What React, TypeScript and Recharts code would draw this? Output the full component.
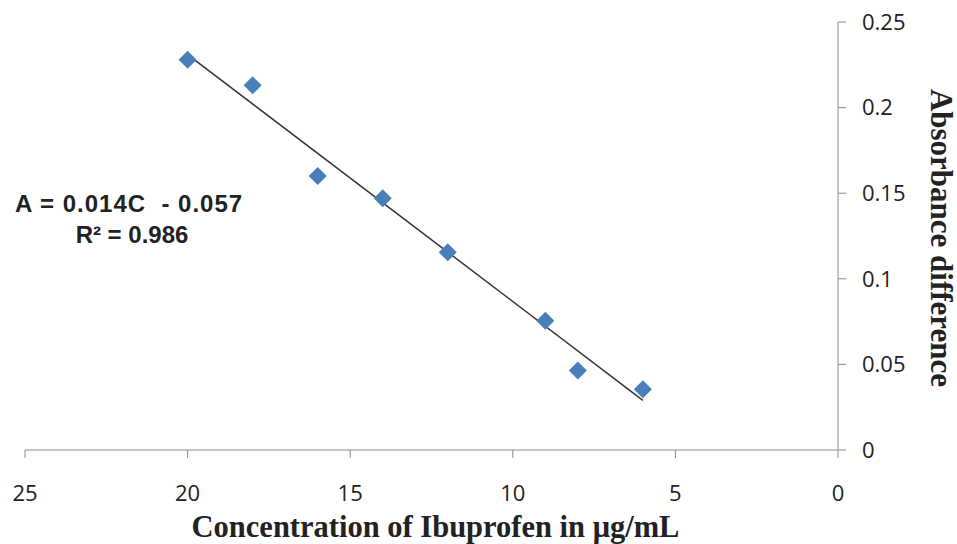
import {
  ComposedChart,
  Scatter,
  XAxis,
  YAxis,
  Label,
} from 'recharts';

const concentration = [20, 18, 16, 14, 12, 9, 8, 6];
const absorbance = [0.228, 0.213, 0.16, 0.147, 0.1155, 0.0755, 0.0465, 0.0355];

// fitted line endpoints as drawn in the figure
const trendX = [20, 6];
const trendY = [0.231, 0.029];

const xTicks = [0, 5, 10, 15, 20, 25];
const yTicks = [0, 0.05, 0.1, 0.15, 0.2, 0.25];

const equationText = 'A = 0.014C  - 0.057';
const r2Text = 'R² = 0.986';

const points = concentration.map((c, i) => ({ c, a: absorbance[i] }));
const trend = trendX.map((c, i) => ({ c, a: trendY[i] }));

const MARKER = '#4A7EBB';
const AXIS = '#8c8c8c';
const TICK_FONT = '"Open Sans", "Liberation Sans", sans-serif';
const SERIF = '"Liberation Serif", "Times New Roman", serif';

const Diamond = (props: any) => {
  const { cx, cy } = props;
  const r = 9;
  return (
    <polygon
      points={`${cx},${cy - r} ${cx + r},${cy} ${cx},${cy + r} ${cx - r},${cy}`}
      fill={MARKER}
    />
  );
};

const YTitle = (props: any) => {
  const { viewBox } = props;
  const x = viewBox.x + viewBox.width - 16;
  const y = viewBox.y + viewBox.height / 2 + 2;
  return (
    <text
      x={x}
      y={y}
      transform={`rotate(90, ${x}, ${y})`}
      textAnchor="middle"
      dominantBaseline="central"
      fontFamily={SERIF}
      fontWeight="bold"
      fontSize={31}
      fill="#222"
    >
      Absorbance difference
    </text>
  );
};

export default function App() {
  return (
    <div style={{ position: 'absolute', left: 0, top: 0, width: 957, height: 544, background: '#fff' }}>
      <ComposedChart
        width={957}
        height={544}
        margin={{ top: 22, right: 0, left: 25, bottom: 0 }}
      >
        <XAxis
          type="number"
          dataKey="c"
          domain={[0, 25]}
          ticks={xTicks}
          reversed
          height={94}
          stroke={AXIS}
          tickSize={8}
          tickMargin={27}
          tick={{ fill: '#222', fontSize: 22, fontFamily: TICK_FONT }}
          tickLine={{ stroke: AXIS }}
        >
          <Label
            value="Concentration of Ibuprofen in μg/mL"
            position="insideBottom"
            offset={7}
            dx={4}
            style={{ fontFamily: SERIF, fontWeight: 'bold', fontSize: 30.5, fill: '#222' }}
          />
        </XAxis>
        <YAxis
          type="number"
          dataKey="a"
          orientation="right"
          domain={[0, 0.25]}
          ticks={yTicks}
          width={119}
          stroke={AXIS}
          tickSize={8}
          tickMargin={16}
          tick={{ fill: '#222', fontSize: 22, fontFamily: TICK_FONT, textAnchor: 'start' }}
          tickLine={{ stroke: AXIS }}
        >
          <Label content={<YTitle />} />
        </YAxis>
        <Scatter
          data={trend}
          line={{ stroke: '#333', strokeWidth: 1.5 }}
          shape={() => null}
          isAnimationActive={false}
        />
        <Scatter data={points} shape={<Diamond />} isAnimationActive={false} />
      </ComposedChart>
      <svg
        width={260}
        height={80}
        style={{ position: 'absolute', left: 0, top: 180 }}
      >
        <g fontFamily='"Liberation Sans", Arial, sans-serif' fontWeight="bold" fontSize={24} fill="#222" textAnchor="middle">
          <text x={129} y={32} letterSpacing={1} style={{ whiteSpace: 'pre' }}>{equationText}</text>
          <text x={132} y={63}>{r2Text}</text>
        </g>
      </svg>
    </div>
  );
}
